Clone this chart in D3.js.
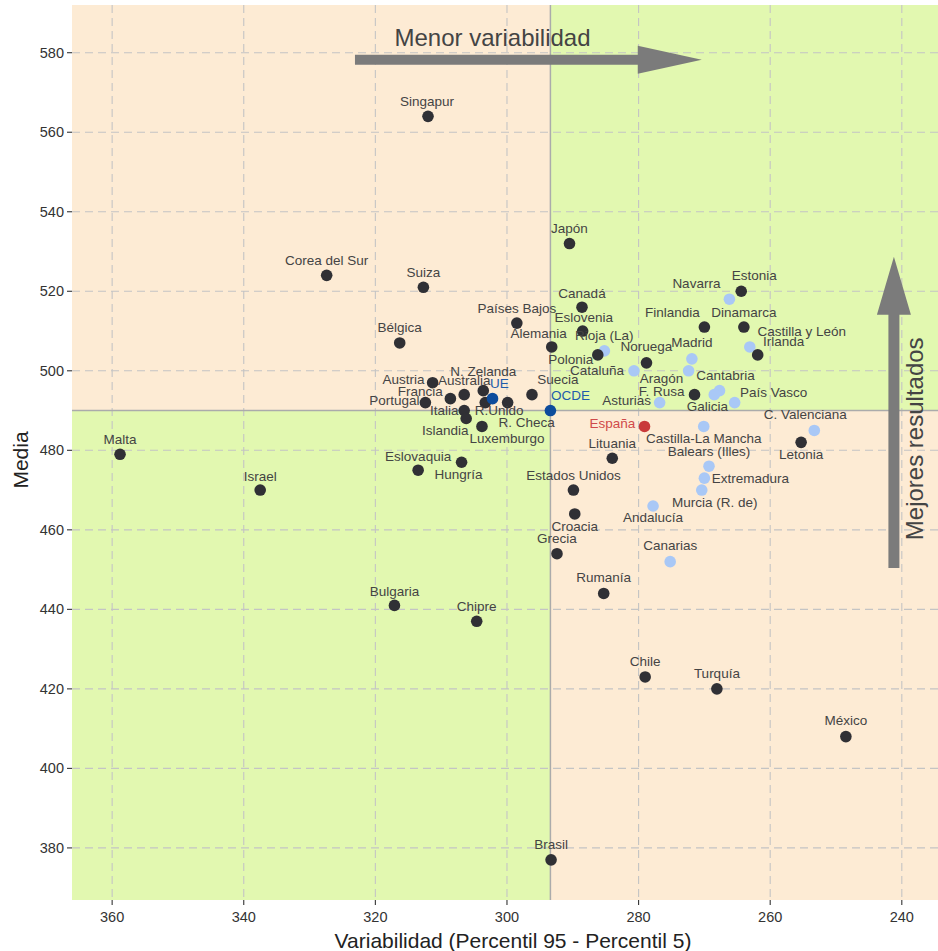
<!DOCTYPE html>
<html>
<head>
<meta charset="utf-8">
<script src="https://cdn.jsdelivr.net/npm/d3@7/dist/d3.min.js"></script>
<style>
  html, body { margin: 0; padding: 0; background: #ffffff; }
  svg text { font-family: "Liberation Sans", Arial, sans-serif; }
</style>
</head>
<body>
<svg id="chart" width="938" height="951"></svg>
<script>
// ---------- DATA ----------
const names = [
  "Singapur","Japón","Corea del Sur","Suiza","Estonia","Canadá","Países Bajos","Dinamarca",
  "Finlandia","Eslovenia","Bélgica","Alemania","Polonia","Irlanda","Noruega","Austria",
  "N. Zelanda","F. Rusa","Suecia","Australia","Francia","R.Unido","R. Checa","Portugal",
  "Italia","Islandia","Luxemburgo","Letonia","Malta","Lituania","Hungría","Eslovaquia",
  "Israel","Estados Unidos","Croacia","Grecia","Rumanía","Bulgaria","Chipre","Chile",
  "Turquía","México","Brasil",
  "UE","OCDE","España",
  "Navarra","Castilla y León","Rioja (La)","Madrid","Aragón","Cataluña","Cantabria","Galicia",
  "País Vasco","Asturias","Castilla-La Mancha","C. Valenciana","Balears (Illes)","Extremadura",
  "Murcia (R. de)","Andalucía","Canarias"
];
const variability = [
  312.0,290.5,327.4,312.7,264.4,288.6,298.5,264.0,
  270.0,288.5,316.3,293.2,286.2,261.9,278.8,311.3,
  303.6,271.5,296.2,306.5,308.6,303.3,299.9,312.4,
  306.5,306.2,303.8,255.3,358.8,284.0,306.9,313.5,
  337.5,289.9,289.7,292.4,285.3,317.1,304.6,279.0,
  268.1,248.5,293.3,
  302.2,293.4,279.1,
  266.2,263.1,285.2,271.9,272.4,280.7,267.7,268.5,
  265.4,276.8,270.1,253.3,269.3,270.0,
  270.4,277.8,275.2
];
const means = [
  564,532,524,521,520,516,512,511,
  511,510,507,506,504,504,502,497,
  495,494,494,494,493,492,492,492,
  490,488,486,482,479,478,477,475,
  470,470,464,454,444,441,437,423,
  420,408,377,
  493,490,486,
  518,506,505,503,500,500,495,494,
  492,492,486,485,476,473,
  470,466,452
];
const groups = [
  "pais","pais","pais","pais","pais","pais","pais","pais",
  "pais","pais","pais","pais","pais","pais","pais","pais",
  "pais","pais","pais","pais","pais","pais","pais","pais",
  "pais","pais","pais","pais","pais","pais","pais","pais",
  "pais","pais","pais","pais","pais","pais","pais","pais",
  "pais","pais","pais",
  "media","media","espana",
  "ccaa","ccaa","ccaa","ccaa","ccaa","ccaa","ccaa","ccaa",
  "ccaa","ccaa","ccaa","ccaa","ccaa","ccaa",
  "ccaa","ccaa","ccaa"
];
const xTicks = [360, 340, 320, 300, 280, 260, 240];
const yTicks = [380, 400, 420, 440, 460, 480, 500, 520, 540, 560, 580];
const refVariability = 293.4;   // OCDE
const refMean = 490;            // OCDE
const xAxisTitle = "Variabilidad (Percentil 95 - Percentil 5)";
const yAxisTitle = "Media";
const arrowXText = "Menor variabilidad";
const arrowYText = "Mejores resultados";

// ---------- LAYOUT (label nudges in px, not data) ----------
const labelNudge = [
  [-1,-15],[0,-15],[0,-15],[0,-15],[13,-16],[0,-14],[0,-15],[0,-15],
  [-32,-15],[1,-14],[0,-15],[-13,-13],[-27,5],[26,-13],[0,-16],[-29,-3],
  [0,-19],[-33,-3],[26,-15],[0,-14],[-30,-7],[14,8],[19,20],[-31,-2],
  [-20,0],[-21,12],[25,12],[0,12],[0,-15],[0,-15],[-3,12],[0,-14],
  [0,-14],[0,-15],[0,13],[0,-15],[0,-16],[0,-14],[0,-15],[0,-15],
  [0,-15],[0,-16],[0,-15],
  [7,-15],[20,-15],[-32,-3],
  [-33,-16],[52,-15],[0,-15],[0,-16],[-27,8],[-37,0],[6,-15],[-7,12],
  [39,-10],[-33,-2],[0,12],[-9,-16],[0,-15],[46,0],
  [13,12],[0,12],[0,-16]
];

const pointColor = {pais: "#303035", ccaa: "#a9c8f6", media: "#0d4c9c", espana: "#c93a3a"};
const labelColor = {pais: "#444444", ccaa: "#444444", media: "#1f5cab", espana: "#d04a4a"};

// ---------- CHART ----------
const panel = {left: 72, right: 938, top: 5, bottom: 900};
const svg = d3.select("#chart");

const x = d3.scaleLinear().domain([366.1, 234.5]).range([panel.left, panel.right]);
const y = d3.scaleLinear().domain([592, 366.9]).range([panel.top, panel.bottom]);

const peach = "#fdebd4", green = "#e2f8b0";
const xr = x(refVariability), yr = y(refMean);
const bg = svg.append("g");
bg.append("rect").attr("x", panel.left).attr("y", panel.top).attr("width", xr - panel.left).attr("height", yr - panel.top).attr("fill", peach);
bg.append("rect").attr("x", xr).attr("y", panel.top).attr("width", panel.right - xr).attr("height", yr - panel.top).attr("fill", green);
bg.append("rect").attr("x", panel.left).attr("y", yr).attr("width", xr - panel.left).attr("height", panel.bottom - yr).attr("fill", green);
bg.append("rect").attr("x", xr).attr("y", yr).attr("width", panel.right - xr).attr("height", panel.bottom - yr).attr("fill", peach);

// grid
const grid = svg.append("g").attr("stroke", "#c4c4c4").attr("stroke-width", 1.1).attr("stroke-dasharray", "8,5");
grid.selectAll("line.v").data(xTicks).join("line")
  .attr("x1", d => x(d)).attr("x2", d => x(d)).attr("y1", panel.top).attr("y2", panel.bottom);
grid.selectAll("line.h").data(yTicks).join("line")
  .attr("y1", d => y(d)).attr("y2", d => y(d)).attr("x1", panel.left).attr("x2", panel.right);

// reference lines
svg.append("line").attr("x1", xr).attr("x2", xr).attr("y1", panel.top).attr("y2", panel.bottom)
  .attr("stroke", "#ababab").attr("stroke-width", 1.5);
svg.append("line").attr("x1", panel.left).attr("x2", panel.right).attr("y1", yr).attr("y2", yr)
  .attr("stroke", "#ababab").attr("stroke-width", 1.5);

// arrows
const arrowColor = "#7b7b7b";
function hArrow(v0, v1, m, thick, headLen, headHalf) {
  const x0 = x(v0), x1 = x(v1), yy = y(m), hb = x1 - headLen;
  return `M${x0},${yy - thick/2} L${hb},${yy - thick/2} L${hb},${yy - headHalf} L${x1},${yy} L${hb},${yy + headHalf} L${hb},${yy + thick/2} L${x0},${yy + thick/2} Z`;
}
function vArrow(v, m0, m1, thick, headLen, headHalf) {
  const xx = x(v), y0 = y(m0), y1 = y(m1), hb = y1 + headLen;
  return `M${xx - thick/2},${y0} L${xx - thick/2},${hb} L${xx - headHalf},${hb} L${xx},${y1} L${xx + headHalf},${hb} L${xx + thick/2},${hb} L${xx + thick/2},${y0} Z`;
}
svg.append("path").attr("d", hArrow(323.1, 270.4, 578.2, 10, 64, 14)).attr("fill", arrowColor);
svg.append("path").attr("d", vArrow(241.2, 450.4, 528.7, 11, 58, 17)).attr("fill", arrowColor);
svg.append("text").attr("x", x(302.2)).attr("y", y(581.6)).attr("text-anchor", "middle")
  .attr("font-size", 24).attr("fill", "#444444").text(arrowXText);
svg.append("text").attr("transform", `translate(${x(238.0)},${y(482.9)}) rotate(-90)`)
  .attr("text-anchor", "middle").attr("dominant-baseline", "central")
  .attr("font-size", 24).attr("fill", "#444444").text(arrowYText);

// points
const data = names.map((n, i) => ({name: n, v: variability[i], m: means[i], g: groups[i], nd: labelNudge[i]}));
const order = ["ccaa", "pais", "media", "espana"];
const sorted = data.slice().sort((a, b) => order.indexOf(a.g) - order.indexOf(b.g));
svg.append("g").selectAll("circle").data(sorted).join("circle")
  .attr("cx", d => x(d.v)).attr("cy", d => y(d.m)).attr("r", 5.8)
  .attr("fill", d => pointColor[d.g]);

// labels
svg.append("g").selectAll("text").data(data).join("text")
  .attr("x", d => x(d.v) + d.nd[0]).attr("y", d => y(d.m) + d.nd[1])
  .attr("text-anchor", "middle").attr("dominant-baseline", "central")
  .attr("font-size", 13.5).attr("fill", d => labelColor[d.g]).text(d => d.name);

// axes
const axisColor = "#333333";
const yAx = svg.append("g");
yAx.selectAll("line").data(yTicks).join("line")
  .attr("x1", panel.left - 5).attr("x2", panel.left).attr("y1", d => y(d)).attr("y2", d => y(d))
  .attr("stroke", axisColor).attr("stroke-width", 1.1);
yAx.selectAll("text").data(yTicks).join("text")
  .attr("x", panel.left - 8).attr("y", d => y(d)).attr("text-anchor", "end").attr("dominant-baseline", "central")
  .attr("font-size", 14.5).attr("fill", axisColor).text(d => d);
const xAx = svg.append("g");
xAx.selectAll("line").data(xTicks).join("line")
  .attr("x1", d => x(d)).attr("x2", d => x(d)).attr("y1", panel.bottom).attr("y2", panel.bottom + 5)
  .attr("stroke", axisColor).attr("stroke-width", 1.1);
xAx.selectAll("text").data(xTicks).join("text")
  .attr("x", d => x(d)).attr("y", panel.bottom + 17).attr("text-anchor", "middle").attr("dominant-baseline", "central")
  .attr("font-size", 14.5).attr("fill", axisColor).text(d => d);

svg.append("text").attr("x", 513).attr("y", 940)
  .attr("text-anchor", "middle").attr("dominant-baseline", "central")
  .attr("font-size", 21).attr("fill", "#222222").text(xAxisTitle);
svg.append("text").attr("transform", `translate(20,460) rotate(-90)`)
  .attr("text-anchor", "middle").attr("dominant-baseline", "central")
  .attr("font-size", 21).attr("fill", "#222222").text(yAxisTitle);
</script>
</body>
</html>
